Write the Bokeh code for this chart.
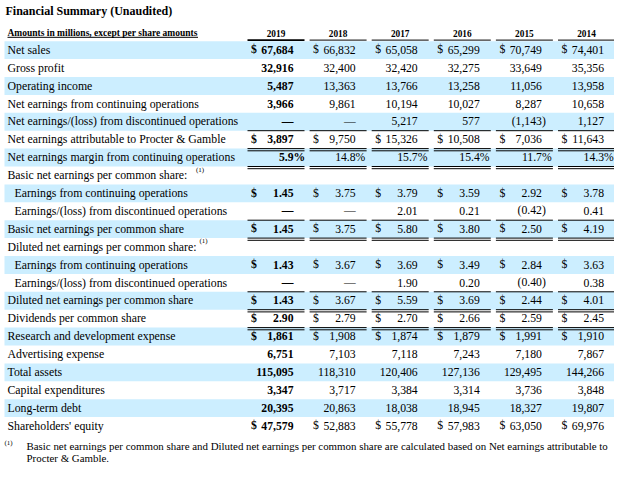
from bokeh.plotting import figure
from bokeh.models import Range1d
from bokeh.core.properties import value
from bokeh.embed import file_html
from bokeh.resources import INLINE

# ---------------- data ----------------
title = "Financial Summary (Unaudited)"
header = "Amounts in millions, except per share amounts"
years = ["2019", "2018", "2017", "2016", "2015", "2014"]
labels = [
    "Net sales",
    "Gross profit",
    "Operating income",
    "Net earnings from continuing operations",
    "Net earnings/(loss) from discontinued operations",
    "Net earnings attributable to Procter & Gamble",
    "Net earnings margin from continuing operations",
    "Basic net earnings per common share:",
    "Earnings from continuing operations",
    "Earnings/(loss) from discontinued operations",
    "Basic net earnings per common share",
    "Diluted net earnings per common share:",
    "Earnings from continuing operations",
    "Earnings/(loss) from discontinued operations",
    "Diluted net earnings per common share",
    "Dividends per common share",
    "Research and development expense",
    "Advertising expense",
    "Total assets",
    "Capital expenditures",
    "Long-term debt",
    "Shareholders' equity",
]
indented = [8, 9, 12, 13]
footnoted = [7, 11]
kinds = ["int", "int", "int", "int", "int", "int", "pct", "hdr", "eps", "eps", "eps",
         "hdr", "eps", "eps", "eps", "eps", "int", "int", "int", "int", "int", "int"]
dollar_rows = [0, 5, 8, 10, 12, 14, 15, 16, 21]
single_above = [5, 10, 14]
double_below = [5, 6, 10, 14, 15]
shaded = list(range(0, 22, 2))

v2019 = [67684, 32916, 5487, 3966, 0, 3897, 5.9, None, 1.45, 0, 1.45, None, 1.43, 0, 1.43, 2.90,
         1861, 6751, 115095, 3347, 20395, 47579]
v2018 = [66832, 32400, 13363, 9861, 0, 9750, 14.8, None, 3.75, 0, 3.75, None, 3.67, 0, 3.67, 2.79,
         1908, 7103, 118310, 3717, 20863, 52883]
v2017 = [65058, 32420, 13766, 10194, 5217, 15326, 15.7, None, 3.79, 2.01, 5.80, None, 3.69, 1.90, 5.59, 2.70,
         1874, 7118, 120406, 3384, 18038, 55778]
v2016 = [65299, 32275, 13258, 10027, 577, 10508, 15.4, None, 3.59, 0.21, 3.80, None, 3.49, 0.20, 3.69, 2.66,
         1879, 7243, 127136, 3314, 18945, 57983]
v2015 = [70749, 33649, 11056, 8287, -1143, 7036, 11.7, None, 2.92, -0.42, 2.50, None, 2.84, -0.40, 2.44, 2.59,
         1991, 7180, 129495, 3736, 18327, 63050]
v2014 = [74401, 35356, 13958, 10658, 1127, 11643, 14.3, None, 3.78, 0.41, 4.19, None, 3.63, 0.38, 4.01, 2.45,
         1910, 7867, 144266, 3848, 19807, 69976]
columns = [v2019, v2018, v2017, v2016, v2015, v2014]

footnote_1 = ("Basic net earnings per common share and Diluted net earnings per common share "
              "are calculated based on Net earnings attributable to")
footnote_2 = "Procter & Gamble."

# ---------------- layout ----------------
FONT = value("Liberation Serif")
ROW0, ROWH = 49.3, 17.9
COL0, COLW = 247.0, 62.1
NUM_OFF, LINE_W = 46.0, 57.0
BAND_L, BAND_R = 4, 615


def row_c(i):
    return ROW0 + ROWH * i


def fmt(v, kind):
    if v is None:
        return None
    if v == 0:
        return ("\u2014", "")
    if kind == "pct":
        return (f"{v:.1f}", "%")
    s = f"{abs(v):,.0f}" if kind == "int" else f"{abs(v):.2f}"
    if v < 0:
        return ("(" + s, ")")
    return (s, "")


p = figure(width=614, height=464, x_range=Range1d(0, 614), y_range=Range1d(464, 0),
           output_backend="svg", toolbar_location=None, min_border=0,
           x_axis_type=None, y_axis_type=None)
p.grid.visible = False
p.outline_line_color = None
p.background_fill_color = "white"

# shaded bands
p.quad(left=[BAND_L] * len(shaded), right=[BAND_R] * len(shaded),
       top=[row_c(i) - 8.6 for i in shaded], bottom=[row_c(i) + 9.3 for i in shaded],
       fill_color="#cceeff", line_color=None)

# title and header
p.text(x=[5], y=[10.5], text=[title], text_font=FONT, text_font_size="12px",
       text_font_style="bold", text_baseline="middle", text_align="left", text_color="black")
p.text(x=[7], y=[32.8], text=[header], text_font=FONT, text_font_size="9.5px",
       text_font_style="bold", text_baseline="middle", text_align="left", text_color="black")
p.segment(x0=[7], x1=[197.5], y0=[36.8], y1=[36.8], line_color="black", line_width=1)

col_left = [COL0 + COLW * j for j in range(len(years))]
p.text(x=[c + LINE_W / 2 for c in col_left], y=[32.7] * len(years), text=years, text_font=FONT,
       text_font_size="9.3px", text_font_style="bold", text_baseline="middle",
       text_align="center", text_color="black")
p.segment(x0=col_left, x1=[c + LINE_W for c in col_left], y0=[39.6] * len(years),
          y1=[39.6] * len(years), line_color="black",
          line_width=[1.6] + [1] * (len(years) - 1))

# labels
lab_x = [14 if i in indented else 7 for i in range(len(labels))]
p.text(x=lab_x, y=[row_c(i) for i in range(len(labels))], text=labels, text_font=FONT,
       text_font_size="11.8px", text_baseline="middle", text_align="left", text_color="black")
p.text(x=[195.5, 199], y=[row_c(i) - 5.5 for i in footnoted], text=["(1)", "(1)"],
       text_font=FONT, text_font_size="7px", text_baseline="middle", text_align="left",
       text_color="black")

# values
for j, vals in enumerate(columns):
    style = "bold" if j == 0 else "normal"
    xs, ys, ts, sx, sy, st, dx, dy = [], [], [], [], [], [], [], []
    for i, v in enumerate(vals):
        f = fmt(v, kinds[i])
        if f is None:
            continue
        xs.append(col_left[j] + NUM_OFF)
        ys.append(row_c(i))
        ts.append(f[0])
        if f[1]:
            sx.append(col_left[j] + NUM_OFF)
            sy.append(row_c(i))
            st.append(f[1])
        if i in dollar_rows:
            dx.append(col_left[j] + 3.5)
            dy.append(row_c(i))
    p.text(x=xs, y=ys, text=ts, text_font=FONT, text_font_size="11.7px", text_font_style=style,
           text_baseline="middle", text_align="right", text_color="black")
    if st:
        p.text(x=sx, y=sy, text=st, text_font=FONT, text_font_size="11.7px",
               text_font_style=style, text_baseline="middle", text_align="left",
               text_color="black")
    p.text(x=dx, y=dy, text=["$"] * len(dx), text_font=FONT, text_font_size="11.7px",
           text_font_style=style, text_baseline="middle", text_align="left", text_color="black")

# rules
x0s, x1s, ys = [], [], []
for i in single_above:
    for c in col_left:
        x0s.append(c); x1s.append(c + LINE_W); ys.append(row_c(i) - 8.6)
for i in double_below:
    for c in col_left:
        for off in (9.3, 11.5):
            x0s.append(c); x1s.append(c + LINE_W); ys.append(row_c(i) + off)
p.segment(x0=x0s, x1=x1s, y0=ys, y1=ys, line_color="black", line_width=1)

# footnote
p.text(x=[4], y=[442.5], text=["(1)"], text_font=FONT, text_font_size="7px",
       text_baseline="middle", text_align="left", text_color="black")
p.text(x=[26, 26], y=[445.8, 457.6], text=[footnote_1, footnote_2], text_font=FONT,
       text_font_size="10.9px", text_baseline="middle", text_align="left", text_color="black")

open("out.html", "w").write(file_html(p, INLINE))
